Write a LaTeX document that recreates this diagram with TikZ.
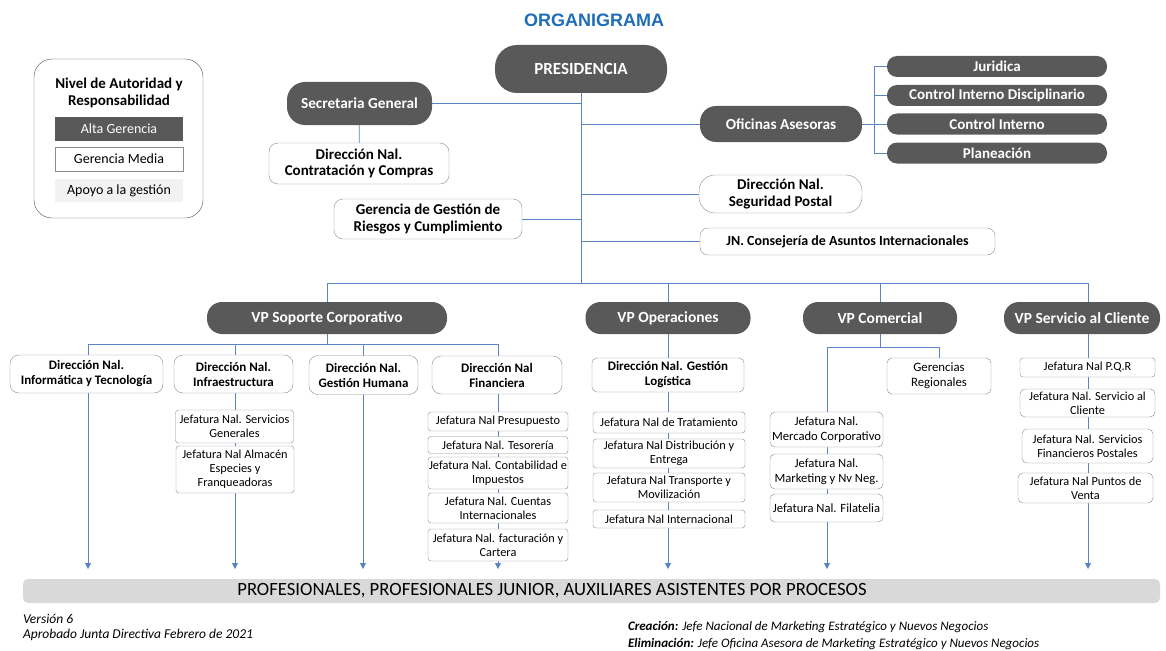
\documentclass[tikz,border=0pt]{standalone}
\usepackage{fontspec}
\setmainfont{Carlito}
\newfontfamily\arialfont{Liberation Sans}
\usetikzlibrary{arrows.meta,backgrounds}
\definecolor{gristop}{HTML}{595959}
\definecolor{borde}{HTML}{8C8C8C}
\definecolor{azul}{HTML}{5B84C4}
\definecolor{titulo}{HTML}{1F6DB8}
\definecolor{barra}{HTML}{D9D9D9}
\definecolor{apoyoleg}{HTML}{F2F2F2}

\begin{document}
\begin{tikzpicture}[x=1pt,y=-1pt]
	\tikzstyle{alta} = [fill=gristop, text=white, inner sep=0, font=\bfseries\fontsize{15.3}{17}\selectfont]
	\tikzstyle{asesor} = [alta, rounded corners=10, minimum width=220, minimum height=21, font=\bfseries\fontsize{15}{16}\selectfont]
	\tikzstyle{vp} = [alta, rounded corners=15, minimum height=32, font=\bfseries\fontsize{15.5}{17}\selectfont]
	\tikzstyle{media} = [draw=borde, fill=white, inner sep=0, rounded corners=9, align=center, font=\bfseries\fontsize{15}{16.5}\selectfont]
	\tikzstyle{dir} = [media, font=\bfseries\fontsize{13}{15}\selectfont]
	\tikzstyle{apoyo} = [draw=borde, fill=white, inner sep=0, rounded corners=3, align=center, font=\fontsize{12.3}{14}\selectfont]
	\tikzstyle{linea} = [draw=azul, line width=0.8]
	\tikzstyle{flecha} = [linea, -{Triangle[width=6,length=6]}]
	\tikzstyle{invisible} = [outer sep=0, inner sep=0]
\useasboundingbox (0,0) rectangle (1166,650);

\node [invisible, text=titulo, font=\arialfont\bfseries\fontsize{18}{20}\selectfont] at (594,20) {ORGANIGRAMA};

% legend
\draw [rounded corners=18, draw=black!70] (34,59) rectangle (203,218);
\node [invisible, align=center, font=\bfseries\fontsize{15}{17}\selectfont] (l0) at (119,93) {Nivel de Autoridad y\\Responsabilidad};
\node [invisible, fill=gristop, text=white, minimum width=128, minimum height=24, font=\fontsize{14}{15}\selectfont] (l1) at (119,129) {Alta Gerencia};
\node [invisible, draw=borde, fill=white, minimum width=128, minimum height=24, font=\fontsize{14}{15}\selectfont] (l2) at (119,159) {Gerencia Media};
\node [invisible, fill=apoyoleg, minimum width=128, minimum height=23, font=\fontsize{14}{15}\selectfont] (l3) at (119,190.5) {Apoyo a la gestión};

% top level
\node [alta, rounded corners=22, minimum width=172, minimum height=48, font=\bfseries\fontsize{17}{19}\selectfont] (v1) at (581,69) {PRESIDENCIA};
\node [alta, rounded corners=18, minimum width=145, minimum height=43] (v2) at (359.5,103.5) {Secretaria General};
\node [media, minimum width=180, minimum height=41] (v3) at (359,163.5) {Dirección Nal.\\Contratación y Compras};
\node [media, minimum width=188, minimum height=40] (v4) at (428,219) {Gerencia de Gestión de\\Riesgos y Cumplimiento};
\node [alta, rounded corners=16, minimum width=162, minimum height=36] (v5) at (781,124) {Oficinas Asesoras};
\node [asesor] (v6) at (997,66.5) {Juridica};
\node [asesor] (v7) at (997,95.5) {Control Interno Disciplinario};
\node [asesor] (v8) at (997,124) {Control Interno};
\node [asesor] (v9) at (997,153) {Planeación};
\node [media, rounded corners=16, minimum width=163, minimum height=38] (v10) at (780.5,194) {Dirección Nal.\\Seguridad Postal};
\node [media, rounded corners=8, minimum width=295, minimum height=27, font=\bfseries\fontsize{14}{16}\selectfont] (v11) at (847.5,241.5) {JN. Consejería de Asuntos Internacionales};

% vice presidencies
\node [vp, minimum width=240] (v12) at (327,318) {VP Soporte Corporativo};
\node [vp, minimum width=165] (v13) at (668,318) {VP Operaciones};
\node [vp, minimum width=154] (v14) at (880,318) {VP Comercial};
\node [vp, minimum width=156] (v15) at (1082,318) {VP Servicio al Cliente};

% soporte corporativo
\node [dir, minimum width=153, minimum height=38] (v16) at (86.5,374) {Dirección Nal.\\Informática y Tecnología};
\node [dir, minimum width=119, minimum height=38] (v17) at (233.5,374) {Dirección Nal.\\Infraestructura};
\node [dir, minimum width=109, minimum height=39] (v18) at (363.5,375) {Dirección Nal.\\Gestión Humana};
\node [dir, minimum width=130, minimum height=38] (v19) at (497,375) {Dirección Nal\\Financiera};
\node [apoyo, minimum width=118, minimum height=33] (v20) at (234.5,426.5) {Jefatura Nal. Servicios\\Generales};
\node [apoyo, minimum width=118, minimum height=47] (v21) at (235,469.5) {Jefatura Nal Almacén\\Especies y\\Franqueadoras};
\node [apoyo, minimum width=140, minimum height=19] (v22) at (498,421.5) {Jefatura Nal Presupuesto};
\node [apoyo, minimum width=140, minimum height=17] (v23) at (498,445) {Jefatura Nal. Tesorería};
\node [apoyo, minimum width=140, minimum height=32] (v24) at (498,473) {Jefatura Nal. Contabilidad e\\Impuestos};
\node [apoyo, minimum width=140, minimum height=30] (v25) at (498,508) {Jefatura Nal. Cuentas\\Internacionales};
\node [apoyo, minimum width=140, minimum height=32] (v26) at (498,545) {Jefatura Nal. facturación y\\Cartera};

% operaciones
\node [dir, rounded corners=5, minimum width=152, minimum height=34] (v27) at (668,375) {Dirección Nal. Gestión\\Logística};
\node [apoyo, minimum width=152, minimum height=21] (v28) at (669,422.5) {Jefatura Nal de Tratamiento};
\node [apoyo, minimum width=152, minimum height=29] (v29) at (669,453.5) {Jefatura Nal Distribución y\\Entrega};
\node [apoyo, minimum width=152, minimum height=29] (v30) at (669,487.5) {Jefatura Nal Transporte y\\Movilización};
\node [apoyo, minimum width=152, minimum height=18] (v31) at (669,519) {Jefatura Nal Internacional};

% comercial
\node [apoyo, rounded corners=5, minimum width=104, minimum height=36, font=\fontsize{12.8}{15}\selectfont] (v32) at (939,376) {Gerencias\\Regionales};
\node [apoyo, rounded corners=5, minimum width=113, minimum height=35, font=\fontsize{12.6}{15}\selectfont] (v33) at (826.5,429.5) {Jefatura Nal.\\Mercado Corporativo};
\node [apoyo, rounded corners=5, minimum width=113, minimum height=35, font=\fontsize{12.6}{15}\selectfont] (v34) at (826.5,471.5) {Jefatura Nal.\\Marketing y Nv Neg.};
\node [apoyo, rounded corners=5, minimum width=113, minimum height=28, font=\fontsize{12.6}{15}\selectfont] (v35) at (826.5,508) {Jefatura Nal. Filatelia};

% servicio al cliente
\node [apoyo, minimum width=135, minimum height=19] (v36) at (1087.5,367.5) {Jefatura Nal P.Q.R};
\node [apoyo, rounded corners=5, minimum width=135, minimum height=28] (v37) at (1087.5,403) {Jefatura Nal. Servicio al\\Cliente};
\node [apoyo, rounded corners=5, minimum width=131, minimum height=34] (v38) at (1087.5,446) {Jefatura Nal. Servicios\\Financieros Postales};
\node [apoyo, rounded corners=5, minimum width=135, minimum height=30] (v39) at (1085.5,488) {Jefatura Nal Puntos de\\Venta};

% ends of the arrows
\coordinate (b0) at (581,283);
\coordinate (b1) at (327,344);
\coordinate (b2) at (880,347);
\coordinate (c1) at (874,124);
\coordinate (a1) at (88,569);
\coordinate (a2) at (235,569);
\coordinate (a3) at (363,569);
\coordinate (a4) at (498,569);
\coordinate (a5) at (668,569);
\coordinate (a6) at (827,569);
\coordinate (a7) at (1088,569);

\begin{scope}[on background layer]
\draw [linea] (v1) -- (b0);
\draw [linea] (v2) -- (v2 -| v1);
\draw [linea] (v2) -- (v3);
\draw [linea] (v4) -- (v4 -| v1);
\draw [linea] (v5) -- (v5 -| v1);
\draw [linea] (v10) -- (v10 -| v1);
\draw [linea] (v11) -- (v11 -| v1);
\draw [linea] (v5) -- (c1);
\draw [linea] (v6) -| (c1);
\draw [linea] (v7) -| (c1);
\draw [linea] (v8) -| (c1);
\draw [linea] (v9) -| (c1);
\draw [linea] (v12) |- (b0);
\draw [flecha] (b0) -| (a7);
\draw [linea] (v13 |- b0) -- (v13);
\draw [flecha] (v13) -- (a5);
\draw [linea] (v14 |- b0) -- (v14);
\draw [linea] (v12) -- (b1);
\draw [flecha] (b1) -| (a1);
\draw [flecha] (b1) -| (a4);
\draw [flecha] (b1 -| a2) -- (a2);
\draw [flecha] (b1 -| a3) -- (a3);
\draw [linea] (v14) -- (b2);
\draw [linea] (b2) -| (v32);
\draw [flecha] (b2) -| (a6);
\end{scope}

% staff level
\fill [rounded corners=5, fill=barra] (23,579) rectangle (1160,603);
\node [invisible, font=\fontsize{18.7}{20}\selectfont] (v40) at (552,591) {PROFESIONALES, PROFESIONALES JUNIOR, AUXILIARES ASISTENTES POR PROCESOS};

% notes
\node [invisible, anchor=west, font=\itshape\fontsize{13.5}{15}\selectfont] at (23,619) {Versión 6};
\node [invisible, anchor=west, font=\itshape\fontsize{13.5}{15}\selectfont] at (23,635) {Aprobado Junta Directiva Febrero de 2021};
\node [invisible, anchor=west, font=\itshape\fontsize{13}{15}\selectfont] at (628,627) {\textbf{Creación:} Jefe Nacional de Marketing Estratégico y Nuevos Negocios};
\node [invisible, anchor=west, font=\itshape\fontsize{13}{15}\selectfont] at (628,644) {\textbf{Eliminación:} Jefe Oficina Asesora de Marketing Estratégico y Nuevos Negocios};
\end{tikzpicture}
\end{document}
